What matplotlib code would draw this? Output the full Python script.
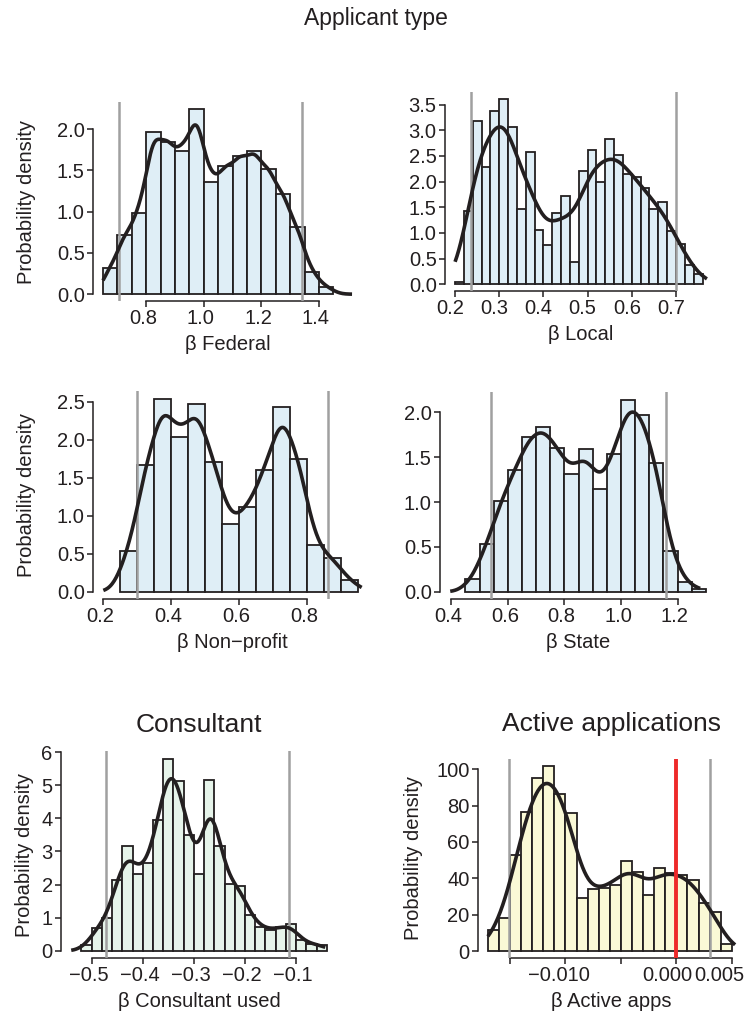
import numpy as np
import matplotlib
matplotlib.use("Agg")
import matplotlib.pyplot as plt
from matplotlib.transforms import ScaledTranslation

plt.rcParams['font.family'] = ['Liberation Sans', 'DejaVu Sans']

# ---------------- data ----------------
fed_start, fed_width = 0.65, 0.05
fed_heights = [0.32, 0.72, 0.99, 1.97, 1.85, 1.73, 2.24, 1.36, 1.55, 1.67, 1.73, 1.52, 1.22, 0.81, 0.27, 0.09]
fed_kde_range = (0.65, 1.515)
fed_vlines = [0.707, 1.342]

loc_start, loc_width = 0.20, 0.02
loc_heights = [0.05, 1.42, 3.18, 2.29, 3.38, 3.60, 3.06, 1.47, 2.57, 1.05, 0.76, 1.39, 1.71, 0.44,
               2.21, 2.62, 1.99, 2.83, 2.52, 2.14, 2.08, 1.88, 1.47, 1.61, 1.03, 0.79, 0.37, 0.19]
loc_kde_range = (0.20, 0.77)
loc_vlines = [0.236, 0.701]

np_start, np_width = 0.25, 0.05
np_heights = [0.54, 1.67, 2.54, 2.04, 2.47, 1.71, 0.89, 1.12, 1.60, 2.43, 1.75, 0.61, 0.44, 0.15]
np_kde_range = (0.20, 0.96)
np_vlines = [0.300, 0.862]

st_start, st_width = 0.45, 0.05
st_heights = [0.14, 0.53, 1.01, 1.36, 1.73, 1.84, 1.60, 1.31, 1.59, 1.15, 1.54, 2.14, 1.97, 1.43, 0.46, 0.11, 0.03]
st_kde_range = (0.396, 1.28)
st_vlines = [0.539, 1.161]

con_start, con_width = -0.52, 0.02
con_heights = [0.18, 0.70, 0.98, 2.13, 3.16, 2.32, 2.64, 3.94, 5.80, 5.13, 3.50, 2.32, 5.17, 3.16,
               2.03, 1.96, 1.08, 0.73, 0.63, 0.71, 0.81, 0.33, 0.20, 0.18]
con_kde_range = (-0.54, -0.043)
con_vlines = [-0.471, -0.114]

act_start, act_width = -0.017, 0.001
act_heights = [11.9, 18.1, 52.9, 76.6, 95.1, 101.5, 86.3, 76.1, 29.0, 34.1, 34.7, 36.1, 49.6, 43.4,
               30.7, 45.8, 42.9, 42.0, 39.2, 26.5, 21.4, 3.8]
act_kde_range = (-0.017, 0.0053)
act_vlines = [-0.0151, 0.0030]
act_redline = 0.0

# ---------------- figure ----------------
W, H = 751, 1018
fig = plt.figure(figsize=(W / 100, H / 100), dpi=100)
INK = '#231F20'
FS = 14.5

def rect(l, t, r, b):
    return [l / W, 1 - b / H, (r - l) / W, (b - t) / H]

def wkde(xs, centers, weights, bw):
    w = np.asarray(weights, float)
    w = w / w.sum()
    d = (xs[:, None] - centers[None, :]) / bw
    return (w[None, :] * np.exp(-0.5 * d ** 2)).sum(axis=1) / (bw * np.sqrt(2 * np.pi))

def panel(r, start, width, heights, kde_range, bw, vlines, color, xticks, xticklabels,
          yticks, yticklabels, xlabel, ylabel=None, title=None, redline=None,
          ylabelpad=8, xlab_shift=None, title_pad=12):
    ax = fig.add_axes(rect(*r))
    heights = np.asarray(heights, float)
    n = len(heights)
    edges = start + width * np.arange(n + 1)
    centers = edges[:-1] + width / 2
    ax.bar(edges[:-1], heights, width=width, align='edge', color=color,
           edgecolor=INK, linewidth=1.3, zorder=2)
    xs = np.linspace(kde_range[0], kde_range[1], 400)
    dens = wkde(xs, centers, heights, bw)
    ax.plot(xs, dens, color=INK, lw=2.6, zorder=4, solid_capstyle='butt')
    for v in vlines:
        ax.axvline(v, color='#A0A0A0', lw=1.8, zorder=3)
    if redline is not None:
        ax.axvline(redline, color='#EE2A2A', lw=2.8, zorder=5)
    lo = min(edges[0], kde_range[0])
    hi = max(edges[-1], kde_range[1])
    ax.set_xlim(lo - 0.04 * (hi - lo), hi + 0.04 * (hi - lo))
    ymax = max(heights.max(), dens.max())
    ax.set_ylim(-0.037 * ymax, ymax * 1.04)
    ax.set_xticks(xticks)
    ax.set_xticklabels(xticklabels)
    ax.set_yticks(yticks)
    ax.set_yticklabels(yticklabels)
    for s in ['top', 'right']:
        ax.spines[s].set_visible(False)
    ax.spines['left'].set_bounds(yticks[0], yticks[-1])
    ax.spines['bottom'].set_bounds(xticks[0], xticks[-1])
    for s in ['left', 'bottom']:
        ax.spines[s].set_linewidth(1.1)
        ax.spines[s].set_color(INK)
    ax.tick_params(axis='both', direction='out', length=4, width=1.1, colors=INK,
                   labelsize=FS, labelcolor=INK)
    ax.tick_params(axis='y', pad=2)
    ax.tick_params(axis='x', pad=1.5)
    if xlab_shift is None:
        xlab_shift = [-3] * len(xticks)
    for lab, dx in zip(ax.get_xticklabels(), xlab_shift):
        lab.set_transform(lab.get_transform() + ScaledTranslation(dx / 100, 0, fig.dpi_scale_trans))
    ax.set_xlabel(xlabel, fontsize=FS, color=INK, labelpad=5)
    if ylabel:
        ax.set_ylabel(ylabel, fontsize=FS, color=INK, labelpad=ylabelpad)
    if title:
        ax.set_title(title, fontsize=19, color=INK, pad=title_pad)
    ax.set_facecolor('none')
    return ax

def fmt1(v):
    return [f"{x:.1f}".replace('-', '\u2212') for x in v]

blue = '#DFEEF6'
green = '#E6F4EA'
yellow = '#FAF9D6'

panel((93, 102, 362, 301), fed_start, fed_width, fed_heights, fed_kde_range, 0.028, fed_vlines, blue,
      [0.8, 1.0, 1.2, 1.4], fmt1([0.8, 1.0, 1.2, 1.4]),
      [0, 0.5, 1.0, 1.5, 2.0], fmt1([0, 0.5, 1.0, 1.5, 2.0]),
      '\u03b2 Federal', 'Probability density', ylabelpad=15)

panel((445, 92, 717, 291), loc_start, loc_width, loc_heights, loc_kde_range, 0.027, loc_vlines, blue,
      [0.2, 0.3, 0.4, 0.5, 0.6, 0.7], fmt1([0.2, 0.3, 0.4, 0.5, 0.6, 0.7]),
      [0, 0.5, 1.0, 1.5, 2.0, 2.5, 3.0, 3.5], fmt1([0, 0.5, 1.0, 1.5, 2.0, 2.5, 3.0, 3.5]),
      '\u03b2 Local', xlab_shift=[-5] * 6)

panel((93, 391, 372, 599), np_start, np_width, np_heights, np_kde_range, 0.031, np_vlines, blue,
      [0.2, 0.4, 0.6, 0.8], fmt1([0.2, 0.4, 0.6, 0.8]),
      [0, 0.5, 1.0, 1.5, 2.0, 2.5], fmt1([0, 0.5, 1.0, 1.5, 2.0, 2.5]),
      '\u03b2 Non\u2212profit', 'Probability density', ylabelpad=15)

panel((440, 392, 716, 599), st_start, st_width, st_heights, st_kde_range, 0.035, st_vlines, blue,
      [0.4, 0.6, 0.8, 1.0, 1.2], fmt1([0.4, 0.6, 0.8, 1.0, 1.2]),
      [0, 0.5, 1.0, 1.5, 2.0], fmt1([0, 0.5, 1.0, 1.5, 2.0]),
      '\u03b2 State')

panel((61, 751, 337, 958), con_start, con_width, con_heights, con_kde_range, 0.016, con_vlines, green,
      [-0.5, -0.4, -0.3, -0.2, -0.1], fmt1([-0.5, -0.4, -0.3, -0.2, -0.1]),
      [0, 1, 2, 3, 4, 5, 6], [str(v) for v in [0, 1, 2, 3, 4, 5, 6]],
      '\u03b2 Consultant used', 'Probability density', title='Consultant', ylabelpad=5,
      title_pad=13.5)

panel((478, 759, 745, 958), act_start, act_width, act_heights, act_kde_range, 0.0011, act_vlines, yellow,
      [-0.015, -0.010, -0.005, 0.0, 0.005], ['', '\u22120.010', '', '0.000', '0.005'],
      [0, 20, 40, 60, 80, 100], [str(v) for v in [0, 20, 40, 60, 80, 100]],
      '\u03b2 Active apps', 'Probability density', title='Active applications', redline=act_redline,
      ylabelpad=9.5, xlab_shift=[0, -7, 0, -9, -12], title_pad=20)

fig.text(0.5, 1 - 18 / H, 'Applicant type', ha='center', va='center', fontsize=16.5, color=INK)

fig.savefig('out.png', dpi=100)
